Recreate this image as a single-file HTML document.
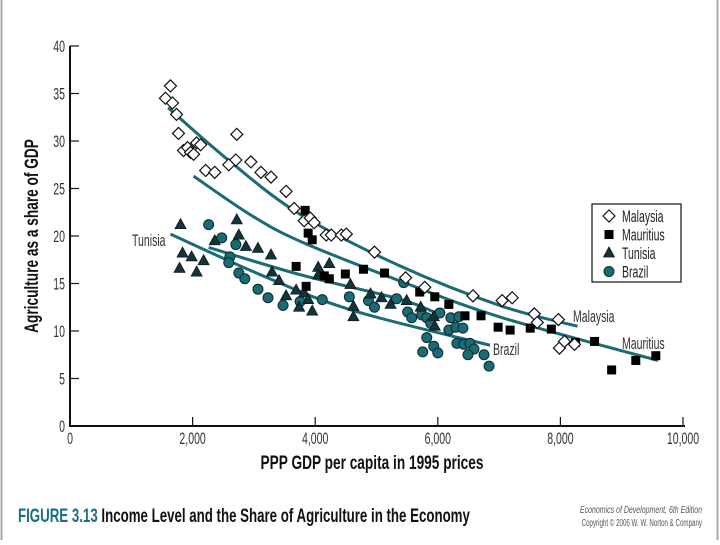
<!DOCTYPE html>
<html><head><meta charset="utf-8"><style>
html,body{margin:0;padding:0;background:#fff;}
body{width:720px;height:540px;overflow:hidden;position:relative;font-family:"Liberation Sans",sans-serif;}
svg text{font-family:"Liberation Sans",sans-serif;}
</style></head><body>
<svg id="chart" width="720" height="540" viewBox="0 0 720 540" xmlns="http://www.w3.org/2000/svg">
<rect x="0" y="0" width="720" height="540" fill="#fff"/>
<line x1="1.5" y1="0" x2="1.5" y2="540" stroke="#aaa" stroke-width="2"/>
<line x1="717.5" y1="0" x2="717.5" y2="540" stroke="#aaa" stroke-width="2"/>
<g id="axes"></g>
<g id="fits"></g>
<g id="marks"></g>
<g id="labels"></g>
</svg>
<script>
const xTicks=[0,2000,4000,6000,8000,10000];
const xTickLabels=["0","2,000","4,000","6,000","8,000","10,000"];
const yTicks=[0,5,10,15,20,25,30,35,40];
const yTickLabels=["0","5","10","15","20","25","30","35","40"];

const malaysiaX=[1557,1639,1672,1738,1770,1852,1918,1967,2016,2066,2131,2213,2361,2590,2705,2721,2951,3115,3279,3525,3656,3820,3918,3984,4180,4262,4426,4508,4967,5475,5787,6574,7049,7213,7574,7623,7967,7984,8066,8230];
const malaysiaY=[34.5,35.8,34.0,32.8,30.8,29.0,29.3,28.8,28.6,29.8,29.6,26.9,26.7,27.5,28.0,30.7,27.8,26.7,26.2,24.7,22.9,21.6,21.9,21.4,20.1,20.1,20.1,20.2,18.3,15.6,14.6,13.7,13.2,13.5,11.8,10.9,11.2,8.2,8.9,8.6];

const mauritiusX=[3836,3885,3951,3689,3852,4148,4230,4492,4787,5131,5705,5951,6180,6443,6705,6984,7180,7508,7852,8246,8557,8836,9230,9557];
const mauritiusY=[22.7,20.3,19.6,16.8,14.7,15.8,15.5,16.0,16.5,16.1,14.1,13.6,12.8,11.6,11.6,10.4,10.1,10.3,10.2,8.8,8.9,5.9,6.9,7.4];

const tunisiaX=[1803,2721,2361,2754,2869,3066,3279,1836,1984,2180,1787,2066,3295,3410,3525,3689,3820,3738,3951,3885,4049,4230,4049,4574,4623,4623,4902,5082,5230,5492,5721,5934,5951];
const tunisiaY=[21.2,21.7,19.5,20.1,18.9,18.7,18.0,18.2,17.8,17.4,16.6,16.2,16.2,15.3,13.7,14.3,14.0,12.5,12.1,13.3,16.7,17.1,15.9,14.9,12.6,11.5,13.9,13.5,12.8,13.2,12.5,11.5,10.5];

const brazilX=[2262,2475,2705,2607,2590,2754,2852,3066,3230,3475,3754,4115,4557,4869,4967,5328,5443,5508,5574,5738,5820,5885,6033,6213,6344,6180,6295,6410,5820,5754,5934,6000,6311,6426,6525,6590,6492,6754,6836];
const brazilY=[21.2,19.8,19.1,17.8,17.2,16.1,15.5,14.4,13.5,12.7,13.1,13.3,13.6,13.2,12.5,13.4,15.1,12.0,11.4,11.7,11.4,10.8,11.9,11.4,11.5,10.1,10.4,10.3,9.3,7.8,8.4,7.7,8.7,8.6,8.7,8.1,7.5,7.5,6.3];

const fitMalaysiaX=[1600,2600,3750,5400,7050,8280];
const fitMalaysiaY=[33.5,27.9,22.3,16.8,12.6,10.5];
const fitMauritiusX=[2016,2951,3770,5410,7049,9590];
const fitMauritiusY=[26.3,22.2,19.4,15.2,11.4,6.9];
const fitTunisiaX=[1639,3115,4590,6852];
const fitTunisiaY=[20.2,15.9,12.2,8.5];
const fitBrazilX=[2262,3770,5410,6066];
const fitBrazilY=[18.8,15.9,13.3,11.6];

const NS="http://www.w3.org/2000/svg";
const X0=70,X1=683,Y0=426,Y1=46;
function sx(v){return X0+(v/10000)*(X1-X0);}
function sy(v){return Y0-(v/40)*(Y0-Y1);}
function mk(tag,attrs,parent){const e=document.createElementNS(NS,tag);for(const k in attrs)e.setAttribute(k,attrs[k]);parent.appendChild(e);return e;}
const axes=document.getElementById('axes'),fits=document.getElementById('fits'),marks=document.getElementById('marks'),labels=document.getElementById('labels');
const TEAL="#1b6b74", NAVY="#14333a";
const condensed="scale(0.62,1)";

let a=mk('line',{x1:X0,y1:Y1,x2:X0,y2:Y0+1,stroke:'#111','stroke-width':2},axes);


a=mk('line',{x1:X0-1,y1:Y0,x2:X1+2,y2:Y0,stroke:'#111','stroke-width':2},axes);



function ctext(x,y,str,size,weight,fill,anchor,parent,scale){
  const g=mk('g',{transform:`translate(${x},${y}) scale(${scale||0.62},1)`},parent);
  const t=mk('text',{x:0,y:0,'font-size':size,'font-weight':weight,fill:fill,'text-anchor':anchor},g);
  t.textContent=str;return g;
}
yTicks.forEach((v,i)=>{
  const l=mk('line',{x1:X0,y1:sy(v),x2:X0+9,y2:sy(v),stroke:'#111','stroke-width':1.2},axes);
  
  
  const g=ctext(X0-5,sy(v)+6,yTickLabels[i],17,'normal','#333','end',axes);
  
  
});
xTicks.forEach((v,i)=>{
  const l=mk('line',{x1:sx(v),y1:Y0,x2:sx(v),y2:Y0-9,stroke:'#111','stroke-width':1.2},axes);
  
  
  const g=ctext(sx(v),Y0+18,xTickLabels[i],17,'normal','#333','middle',axes);
  
  
});
let g=ctext(372,469,"PPP GDP per capita in 1995 prices",19,'bold','#111','middle',axes,0.72);


g=mk('g',{transform:'translate(38,236) rotate(-90) scale(0.72,1)'},axes);


mk('text',{x:0,y:0,'font-size':19,'font-weight':'bold',fill:'#111','text-anchor':'middle'},g).textContent="Agriculture as a share of GDP";

function smoothPath(xs,ys){
  const p=xs.map((x,i)=>[sx(x),sy(ys[i])]);
  let d=`M${p[0][0]},${p[0][1]}`;
  for(let i=0;i<p.length-1;i++){
    const p0=p[Math.max(0,i-1)],p1=p[i],p2=p[i+1],p3=p[Math.min(p.length-1,i+2)];
    const c1=[p1[0]+(p2[0]-p0[0])/6,p1[1]+(p2[1]-p0[1])/6];
    const c2=[p2[0]-(p3[0]-p1[0])/6,p2[1]-(p3[1]-p1[1])/6];
    d+=` C${c1[0]},${c1[1]} ${c2[0]},${c2[1]} ${p2[0]},${p2[1]}`;
  }
  return d;
}
[[fitMalaysiaX,fitMalaysiaY,'fit-line-malaysia'],[fitMauritiusX,fitMauritiusY,'fit-line-mauritius'],[fitTunisiaX,fitTunisiaY,'fit-line-tunisia'],[fitBrazilX,fitBrazilY,'fit-line-brazil']].forEach(f=>{
  const p=mk('path',{d:smoothPath(f[0],f[1]),fill:'none',stroke:TEAL,'stroke-width':3},fits);
  
  
});

function diamond(x,y,parent){return mk('path',{d:`M${x},${y-6} L${x+6},${y} L${x},${y+6} L${x-6},${y} Z`,fill:'#fff',stroke:'#111','stroke-width':1.2},parent);}
function square(x,y,parent){return mk('rect',{x:x-4.5,y:y-4.5,width:9,height:9,fill:'#000'},parent);}
function tri(x,y,parent){return mk('path',{d:`M${x},${y-6} L${x+5.5},${y+4} L${x-5.5},${y+4} Z`,fill:NAVY,stroke:'#0a1a1e','stroke-width':0.8},parent);}
function circ(x,y,parent){return mk('circle',{cx:x,cy:y,r:5,fill:TEAL,stroke:'#0b2a2f','stroke-width':1},parent);}

brazilX.forEach((v,i)=>{const e=circ(sx(v),sy(brazilY[i]),marks);
  
  });
tunisiaX.forEach((v,i)=>{const e=tri(sx(v),sy(tunisiaY[i]),marks);
  
  });
mauritiusX.forEach((v,i)=>{const e=square(sx(v),sy(mauritiusY[i]),marks);
  
  });
malaysiaX.forEach((v,i)=>{const e=diamond(sx(v),sy(malaysiaY[i]),marks);
  
  });

// legend
const lg=mk('g',{},labels);


mk('rect',{x:592,y:204,width:89,height:78,fill:'#fff',stroke:'#111','stroke-width':1.2},lg);
const legNames=["Malaysia","Mauritius","Tunisia","Brazil"];
const legFns=[diamond,square,tri,circ];
legNames.forEach((n,i)=>{
  const y=216+i*18.5;
  const e=legFns[i](609,y,lg);
  
  
  const t=ctext(622,y+6,n,17,'normal','#222','start',lg);
  
  
});
[[573,322,"Malaysia",'malaysia-line-label'],[622,349,"Mauritius",'mauritius-line-label'],[493,355,"Brazil",'brazil-line-label'],[132,246,"Tunisia",'tunisia-line-label']].forEach(l=>{
  const t=ctext(l[0],l[1],l[2],17,'normal','#333','start',labels);
  
  
});

// footer
const ft=mk('g',{transform:'translate(18,522) scale(0.7,1)'},labels);


const tt=mk('text',{x:0,y:0,'font-size':19,'font-weight':'bold',fill:'#111'},ft);
const ts=mk('tspan',{fill:'#1c6e80'},tt);ts.textContent="FIGURE 3.13 ";
const ts2=mk('tspan',{},tt);ts2.textContent="Income Level and the Share of Agriculture in the Economy";
let c=ctext(702,513,"Economics of Development, 6th Edition",10,'normal','#555','end',labels,0.7);
c.querySelector('text').setAttribute('font-style','italic');


c=ctext(702,526,"Copyright © 2006 W. W. Norton & Company",10,'normal','#555','end',labels,0.62);


</script>
</body></html>
